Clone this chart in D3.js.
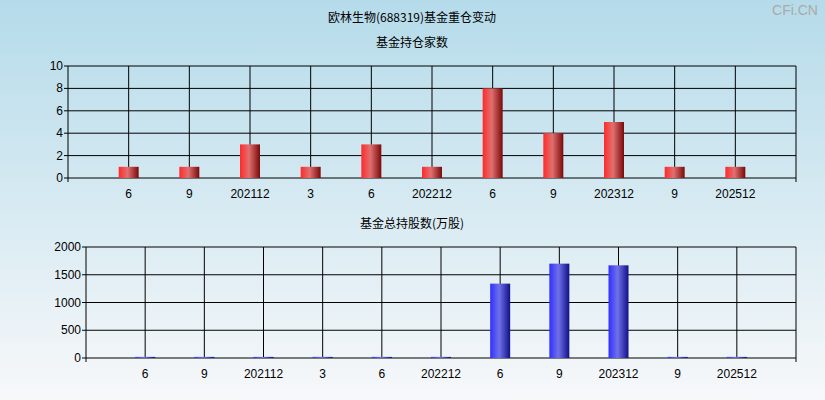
<html>
<head>
<meta charset="utf-8">
<script src="https://cdn.jsdelivr.net/npm/d3@7/dist/d3.min.js"></script>
<style>
body { margin:0; font-family: "Noto Sans CJK SC", Arial, sans-serif; }
</style>
</head>
<body>
<svg id="chart" width="825" height="400"></svg>
<script>
var labels = ["6","9","202112","3","6","202212","6","9","202312","9","202512"];
var holders = [1,1,3,1,3,1,8,4,5,1,1];
var shares = [20,20,20,20,20,20,1340,1700,1670,20,20];

var svg = d3.select("#chart");
var defs = svg.append("defs");
var bg = defs.append("linearGradient").attr("id","bg").attr("x1",0).attr("y1",0).attr("x2",0).attr("y2",1);
bg.append("stop").attr("offset","0%").attr("stop-color","#b5dbea");
bg.append("stop").attr("offset","100%").attr("stop-color","#f7f8fa");
function barGrad(id, c1, c2, c3) {
  var g = defs.append("linearGradient").attr("id",id);
  g.append("stop").attr("offset","0%").attr("stop-color",c1);
  g.append("stop").attr("offset","45%").attr("stop-color",c2);
  g.append("stop").attr("offset","100%").attr("stop-color",c3);
}
barGrad("red","#ff2a2a","#e07070","#7a0a0a");
barGrad("blue","#3030ff","#7070e8","#101088");

svg.append("rect").attr("width",825).attr("height",400).attr("fill","url(#bg)");
svg.append("text").attr("x",412).attr("y",22).attr("text-anchor","middle").attr("font-size",12).text("欧林生物(688319)基金重仓变动");
svg.append("text").attr("x",795).attr("y",15).attr("text-anchor","middle").attr("font-size",14).attr("fill","#aaa").attr("font-family","Arial").text("CFi.CN");

function panel(o) {
  var x = d3.scaleLinear().domain([0, labels.length + 1]).range([o.left, 796]);
  var y = d3.scaleLinear().domain([0, o.max]).range([o.bottom, o.top]);
  var g = svg.append("g");
  svg.append("text").attr("x",412).attr("y",o.top-19).attr("text-anchor","middle").attr("font-size",12).text(o.title);
  o.ticks.forEach(function(t) {
    g.append("line").attr("x1",o.left-4).attr("x2",796).attr("y1",y(t)).attr("y2",y(t)).attr("stroke","#000");
    g.append("text").attr("x",o.left-5).attr("y",y(t)+4).attr("text-anchor","end").attr("font-size",12).attr("font-family","Arial").text(t);
  });
  labels.forEach(function(l, i) {
    g.append("line").attr("x1",x(i+1)).attr("x2",x(i+1)).attr("y1",o.top).attr("y2",o.bottom).attr("stroke","#000");
    g.append("text").attr("x",x(i+1)).attr("y",o.bottom+20).attr("text-anchor","middle").attr("font-size",12).attr("font-family","Arial").text(l);
  });
  g.append("line").attr("x1",o.left).attr("x2",o.left).attr("y1",o.top).attr("y2",o.bottom+4).attr("stroke","#000");
  g.append("line").attr("x1",796).attr("x2",796).attr("y1",o.top).attr("y2",o.bottom+4).attr("stroke","#000");
  g.selectAll(".bar").data(o.values).enter().append("rect")
    .attr("x",function(d,i){return x(i+1)-10;}).attr("width",20)
    .attr("y",function(d){return y(d);}).attr("height",function(d){return o.bottom-y(d);})
    .attr("fill",o.fill);
}
panel({left:68, top:66, bottom:178, max:10, ticks:[0,2,4,6,8,10], values:holders, fill:"url(#red)", title:"基金持仓家数"});
panel({left:86, top:247, bottom:358, max:2000, ticks:[0,500,1000,1500,2000], values:shares, fill:"url(#blue)", title:"基金总持股数(万股)"});
</script>
</body>
</html>
